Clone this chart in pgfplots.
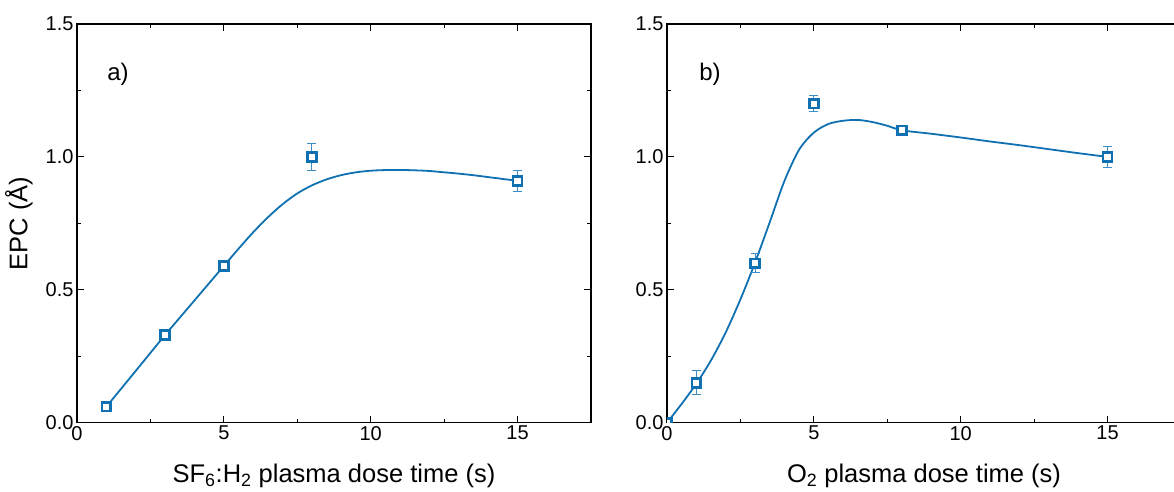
\documentclass[border=0pt]{standalone}
\usepackage{pgfplots}
\pgfplotsset{compat=1.18}
\usepackage{fontspec}
\setmainfont{Liberation Sans}
\definecolor{oblue}{RGB}{16,113,178}
\definecolor{eblue}{RGB}{60,140,200}

\pgfplotsset{
 panel/.style={
  at={(#1pt,69.3pt)}, anchor=south west, scale only axis,
  width=514pt, height=398.7pt,
  xmin=0, xmax=17.5, ymin=0, ymax=1.5,
  xtick={0,5,10,15}, ytick={0,0.5,1.0,1.5},
  minor x tick num=1, minor y tick num=1,
  tick align=inside, major tick length=7pt, minor tick length=4pt,
  axis line style={line width=1.4pt},
  every tick/.style={black, line width=1.1pt},
  yticklabel style={/pgf/number format/.cd, fixed, fixed zerofill, precision=1},
  ticklabel style={font=\fontsize{20}{24}\selectfont},
  /pgf/number format/assume math mode=true,
  label style={font=\fontsize{25.5}{30}\selectfont},
  xlabel style={at={(axis description cs:0.5,0)}, anchor=base, yshift=-60pt},
  ylabel style={at={(axis description cs:-0.113,0.5)}, anchor=center},
  clip marker paths=true,
 },
 fitline/.style={oblue, line width=1.8pt, smooth, no marks},
 pts/.style={oblue, only marks, mark=square*,
   mark options={fill=white, draw=oblue, line width=2.6pt, mark size=4.4pt},
   error bars/.cd, y dir=both, y explicit,
   error bar style={line width=1pt, eblue},
   error mark options={rotate=90, mark size=4.5pt, line width=1pt, eblue}},
}

\begin{document}
\begin{tikzpicture}[x=1pt,y=1pt]
\clip (0,0) rectangle (1174,492);

\begin{axis}[panel=77, xlabel={SF\textsubscript{6}:H\textsubscript{2} plasma dose time (s)}, ylabel={EPC (Å)}]
\addplot[fitline] coordinates {
(1,0.06) (2,0.195) (3,0.33) (4,0.46) (5,0.59) (5.5,0.6545) (6,0.7165) (6.5,0.7728)
(7,0.822) (7.5,0.8625) (8,0.893) (8.5,0.9155) (9,0.9315) (9.5,0.942) (10,0.948)
(10.5,0.9505) (11,0.951) (11.5,0.9495) (12,0.947) (12.5,0.942) (13,0.937)
(13.5,0.931) (14,0.924) (14.5,0.917) (15,0.91)};
\addplot[pts] coordinates {
(1,0.06) +- (0,0.01)
(3,0.33) +- (0,0.01)
(5,0.59) +- (0,0.01)
(8,1.00) +- (0,0.051)
(15,0.91) +- (0,0.04)};
\node[anchor=west, font=\fontsize{24}{28}\selectfont] at (axis description cs:0.052,0.875) {a)};
\end{axis}

\begin{axis}[panel=667, xlabel={O\textsubscript{2} plasma dose time (s)}]
\addplot[fitline] coordinates {
(0,0) (0.5,0.071) (1,0.147) (1.5,0.235) (2,0.340) (2.5,0.464) (3,0.603) (3.5,0.755)
(4,0.910) (4.5,1.0275) (5,1.0915) (5.5,1.124) (6,1.136) (6.5,1.139) (7,1.131)
(7.5,1.117) (8,1.10) (9,1.087) (10,1.073) (11,1.058) (12,1.044) (13,1.029)
(14,1.014) (15,1.0)};
\addplot[pts] coordinates {
(0,0) +- (0,0)
(1,0.15) +- (0,0.045)
(3,0.60) +- (0,0.036)
(5,1.20) +- (0,0.03)
(8,1.10) +- (0,0.01)
(15,1.00) +- (0,0.04)};
\node[anchor=west, font=\fontsize{24}{28}\selectfont] at (axis description cs:0.056,0.875) {b)};
\end{axis}
\end{tikzpicture}
\end{document}
